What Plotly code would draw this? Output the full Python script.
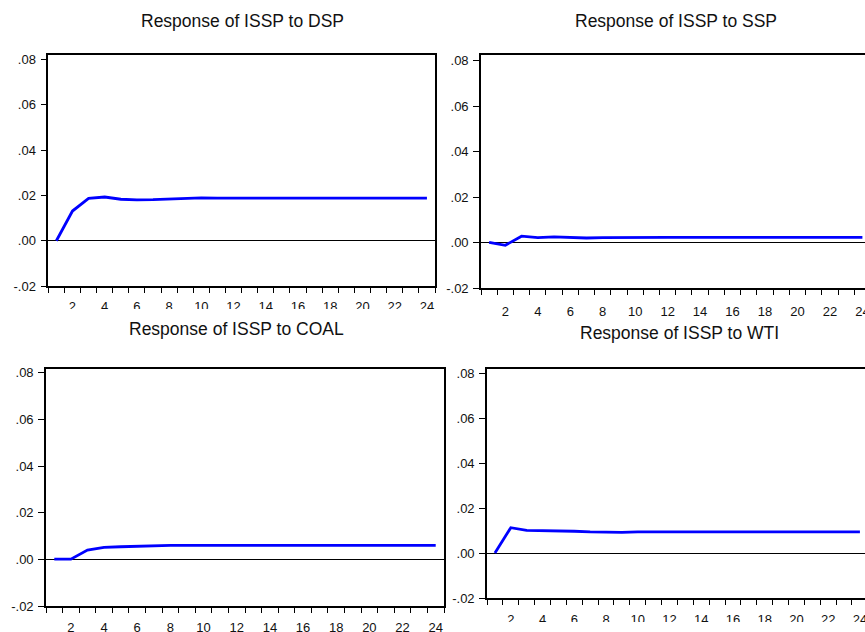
import plotly.graph_objects as go

periods = list(range(1, 25))

titles = ["Response of ISSP to DSP", "Response of ISSP to SSP",
          "Response of ISSP to COAL", "Response of ISSP to WTI"]

resp_dsp = [0.0000, 0.0131, 0.0187, 0.0193, 0.0183, 0.0180, 0.0181, 0.0184,
            0.0188, 0.0189, 0.0188, 0.0188, 0.0188, 0.0188, 0.0188, 0.0188,
            0.0188, 0.0188, 0.0188, 0.0188, 0.0188, 0.0188, 0.0188, 0.0188]
resp_ssp = [0.0001, -0.0012, 0.0028, 0.0022, 0.0025, 0.0022, 0.0020, 0.0022,
            0.0023, 0.0023, 0.0023, 0.0023, 0.0023, 0.0023, 0.0023, 0.0023,
            0.0023, 0.0023, 0.0023, 0.0023, 0.0023, 0.0023, 0.0023, 0.0023]
resp_coal = [0.0001, 0.0001, 0.0040, 0.0051, 0.0054, 0.0057, 0.0059, 0.0060,
             0.0060, 0.0060, 0.0060, 0.0060, 0.0060, 0.0060, 0.0060, 0.0060,
             0.0060, 0.0060, 0.0060, 0.0060, 0.0060, 0.0060, 0.0060, 0.0060]
resp_wti = [0.0001, 0.0114, 0.0102, 0.0101, 0.0101, 0.0098, 0.0095, 0.0093,
            0.0093, 0.0095, 0.0095, 0.0095, 0.0095, 0.0093, 0.0093, 0.0093,
            0.0095, 0.0095, 0.0095, 0.0093, 0.0093, 0.0095, 0.0095, 0.0095]

y_tickvals = [-0.02, 0.00, 0.02, 0.04, 0.06, 0.08]
y_ticktext = ["-.02", ".00", ".02", ".04", ".06", ".08"]
x_labelvals = [2, 4, 6, 8, 10, 12, 14, 16, 18, 20, 22, 24]
x_minorvals = [k + 0.5 for k in range(0, 25)]

W, H = 865, 632
FONT = "Liberation Sans, Arial, sans-serif"

def px(v):
    return v / W

def py(v):
    return 1 - v / H

# panel geometry in pixels: (left, right, top, bottom, xmax, ytop, x-label standoff, mirror right)
panels = [
    (48.3, 435, 55, 286, 24.5, 0.082, 8, True),
    (481, 865, 55, 288, 24.16, 0.0825, 11, False),
    (46, 444, 369, 606, 24.5, 0.0816, 9, True),
    (487, 865, 369.3, 598.3, 24.32, 0.0818, 8, False),
]
series = [resp_dsp, resp_ssp, resp_coal, resp_wti]
title_pos = [(242, 21), (676, 21), (237, 328.7), (679, 332.7)]

fig = go.Figure()
layout = dict(template="none", width=W, height=H,
              margin=dict(l=0, r=0, t=0, b=0, pad=0, autoexpand=False),
              paper_bgcolor="white", plot_bgcolor="white", showlegend=False,
              font=dict(family=FONT, size=13, color="#111"))
annotations = []
for i, (l, r, t, b, xmax, ytop, stand, mirr) in enumerate(panels):
    n = "" if i == 0 else str(i + 1)
    fig.add_trace(go.Scatter(x=periods, y=series[i], mode="lines",
                             line=dict(color="#0000ff", width=2.8),
                             xaxis="x" + n, yaxis="y" + n, hoverinfo="skip"))
    layout["xaxis" + n] = dict(
        domain=[px(l), min(px(r), 1.0)], range=[0.5, xmax], anchor="y" + n,
        automargin=False,
        tickmode="array", tickvals=x_labelvals, ticks="", showgrid=False,
        zeroline=False, showline=True, linecolor="#000", linewidth=1.6,
        mirror=True, ticklabelstandoff=stand, ticklabeloverflow="allow",
        tickfont=dict(family=FONT, size=13, color="#111"),
        minor=dict(tickmode="array", tickvals=x_minorvals, ticks="outside",
                   ticklen=5, tickcolor="#000", tickwidth=1, showgrid=False),
    )
    layout["yaxis" + n] = dict(
        domain=[py(b), py(t)], range=[-0.02, ytop], anchor="x" + n,
        automargin=False,
        tickmode="array", tickvals=y_tickvals, ticktext=y_ticktext,
        ticks="outside", ticklen=6, tickcolor="#000", tickwidth=1,
        showgrid=False, zeroline=True, zerolinecolor="#000", zerolinewidth=1,
        showline=True, linecolor="#000", linewidth=1.6, mirror=mirr,
        ticklabelstandoff=2,
        tickfont=dict(family=FONT, size=13, color="#111"),
    )
    tx, ty = title_pos[i]
    annotations.append(dict(text=titles[i], x=px(tx), y=py(ty), xref="paper",
                            yref="paper", xanchor="center", yanchor="middle",
                            showarrow=False,
                            font=dict(family=FONT, size=17.5, color="#111")))

layout["annotations"] = annotations
# the reference cuts the lower part of some tick labels
layout["shapes"] = [
    dict(type="rect", xref="paper", yref="paper", x0=0, x1=px(462),
         y0=py(318), y1=py(309), fillcolor="white", line=dict(width=0),
         layer="above"),
    dict(type="rect", xref="paper", yref="paper", x0=px(446), x1=1,
         y0=0, y1=py(622), fillcolor="white", line=dict(width=0),
         layer="above"),
]
fig.update_layout(**layout)
# let the figure start at the page's top-left corner (no default body margin)
fig.write_html("out.html", config={"displayModeBar": False},
               post_script="document.body.style.margin='0px';"
                           "document.documentElement.style.overflow='hidden';")
